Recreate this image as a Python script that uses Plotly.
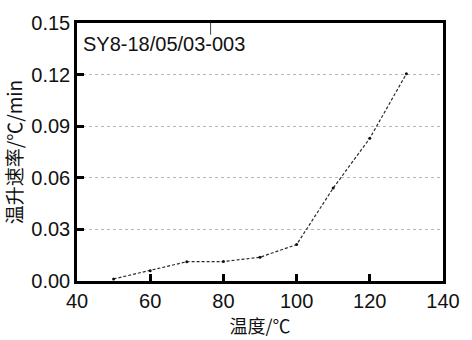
import plotly.graph_objects as go

# Heating rate versus temperature
temperature = [50, 60, 70, 80, 90, 100, 110, 120, 130]
heating_rate = [0.0012, 0.006, 0.0112, 0.0113, 0.0138, 0.0212, 0.054, 0.083, 0.1205]

x_ticks = [40, 60, 80, 100, 120, 140]
y_ticks = [0.00, 0.03, 0.06, 0.09, 0.12, 0.15]
y_tick_text = ["0.00", "0.03", "0.06", "0.09", "0.12", "0.15"]

sample_label = "SY8-18/05/03-003"
sample_mark_x = 76.5

latin = "Arial, Liberation Sans, sans-serif"
cjk = "Noto Sans CJK SC, sans-serif"

fig = go.Figure()
fig.add_trace(go.Scatter(
    x=temperature, y=heating_rate, mode="lines+markers",
    line=dict(color="#2a2a2a", width=1.2, dash="3px,2px"),
    marker=dict(color="#111111", size=3),
    showlegend=False,
))

fig.add_shape(type="line", xref="x", yref="y",
              x0=sample_mark_x, x1=sample_mark_x, y0=0.15, y1=0.1432,
              line=dict(color="#444444", width=1))

fig.add_annotation(x=0.01, y=0.918, xref="paper", yref="paper",
                   xanchor="left", yanchor="middle", showarrow=False,
                   text=sample_label, font=dict(family=latin, size=20, color="#111111"))

axis_common = dict(
    showline=True, linecolor="black", linewidth=2.5, mirror=True,
    ticks="inside", ticklen=7, tickwidth=2.5, tickcolor="black",
    tickfont=dict(family=latin, size=20, color="#111111"),
    zeroline=False,
)

fig.update_xaxes(
    range=[40, 140], tickvals=x_ticks, showgrid=False,
    title=dict(text="温度/℃", font=dict(family=cjk, size=18, color="#111111"), standoff=4),
    **axis_common,
)
fig.update_yaxes(
    range=[0, 0.15], tickvals=y_ticks, ticktext=y_tick_text,
    showgrid=True, gridcolor="#c4b0b6", griddash="dot", gridwidth=1,
    title=dict(text="温升速率/℃/min", font=dict(family=cjk, size=19, color="#111111"), standoff=4),
    **axis_common,
)

fig.update_layout(
    width=472, height=340,
    margin=dict(l=77, r=19, t=12, b=54),
    paper_bgcolor="white", plot_bgcolor="white",
)

fig.write_html("out.html")
